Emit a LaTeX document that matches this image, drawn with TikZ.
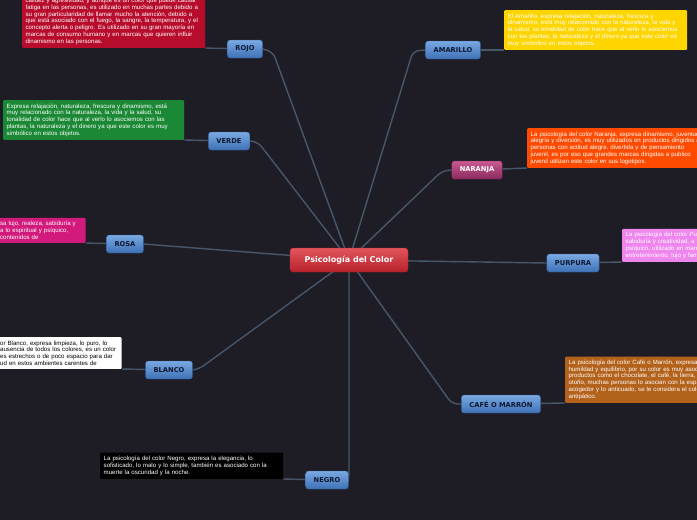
\documentclass[tikz,border=0pt]{standalone}
\usepackage{fontspec}
\setmainfont{Liberation Sans}
\newfontfamily\topicfont{DejaVu Sans}
\usetikzlibrary{backgrounds}

\definecolor{bgc}{HTML}{1E1D25}
\definecolor{linkc}{HTML}{48566A}
\definecolor{topictop}{HTML}{7AA9E2}
\definecolor{topicbot}{HTML}{3E71B6}
\definecolor{topicdraw}{HTML}{2F5D99}
\definecolor{topictext}{HTML}{0E1830}
\definecolor{roottop}{HTML}{E2555D}
\definecolor{rootbot}{HTML}{B5212B}
\definecolor{narntop}{HTML}{C95A92}
\definecolor{narnbot}{HTML}{8A2A5E}
\definecolor{rojoc}{HTML}{B70C2C}
\definecolor{verdec}{HTML}{1A8834}
\definecolor{amarilloc}{HTML}{FFD500}
\definecolor{naranjac}{HTML}{FF4B00}
\definecolor{rosac}{HTML}{D21A7C}
\definecolor{purpurac}{HTML}{EE86EE}
\definecolor{cafec}{HTML}{B3621B}

\begin{document}
\begin{tikzpicture}[x=1pt,y=-1pt,
  link/.style={draw=linkc,line width=1.4pt,rounded corners=6pt},
  topic/.style={rounded corners=2.5pt,top color=topictop,bottom color=topicbot,
    draw=topicdraw,line width=0.4pt,text=topictext,
    font=\topicfont\bfseries\fontsize{6.7}{7}\selectfont,
    minimum height=18pt,inner xsep=8pt,inner ysep=0pt},
  desc/.style={anchor=south west,rounded corners=1pt,text=white,align=left,
    inner xsep=3.5pt,inner ysep=3.5pt,font=\fontsize{6.1}{6.7}\selectfont}]
  \useasboundingbox (0,0) rectangle (697,520);
  \clip (0,0) rectangle (697,520);

  % central topic and main topics
  \node[rounded corners=3pt,top color=roottop,bottom color=rootbot,draw=rootbot,
    text=white,font=\topicfont\bfseries\fontsize{8}{9}\selectfont,
    minimum width=118pt,minimum height=24pt] (root) at (349,260) {Psicología del Color};
  \node[topic] (rojo) at (245,49) {ROJO};
  \node[topic] (verde) at (229,141) {VERDE};
  \node[topic] (rosa) at (125,244) {ROSA};
  \node[topic] (blanco) at (169,370) {BLANCO};
  \node[topic] (negro) at (327,480) {NEGRO};
  \node[topic] (amarillo) at (453,50) {AMARILLO};
  \node[topic,top color=narntop,bottom color=narnbot,draw=narnbot,text=white] (naranja) at (477,170) {NARANJA};
  \node[topic] (purpura) at (573,263) {PURPURA};
  \node[topic] (cafe) at (501,404) {CAFÉ O MARRÓN};

  % notes
  \node[desc,fill=rojoc,text width=176pt] (rojotxt) at (22,48) {\mbox{}\\
    calidez y agresividad, y aunque es un color que puede causar\\
    fatiga en las personas, es utilizado en muchas partes debido a\\
    su gran particularidad de llamar mucho la atención, debido a\\
    que está asociado con el fuego, la sangre, la temperatura, y el\\
    concepto alerta o peligro. Es utilizado en su gran mayoría en\\
    marcas de consumo humano y en marcas que quieren influir\\
    dinamismo en las personas.};
  \node[desc,fill=verdec,text width=174pt] (verdetxt) at (3,140) {%
    Expresa relajación, naturaleza, frescura y dinamismo, está\\
    muy relacionado con la naturaleza, la vida y la salud, su\\
    tonalidad de color hace que al verlo lo asociemos con las\\
    plantas, la naturaleza y el dinero ya que este color es muy\\
    simbólico en estos objetos.};
  \node[desc,fill=rosac,text width=82pt] (rosatxt) at (-3.5,243) {%
    sa lujo, realeza, sabiduría y\\
    a lo espiritual y psíquico,\\
    contenidos de};
  \node[desc,fill=white,text=black,text width=118pt] (blancotxt) at (-3.5,369) {%
    or Blanco, expresa limpieza, lo puro, lo\\
    ausencia de todos los colores, es un color\\
    es estrechos o de poco espacio para dar\\
    ud en estos ambientes carentes de};
  \node[desc,fill=black,text width=176pt] (negrotxt) at (100,479) {%
    La psicología del color Negro, expresa la elegancia, lo\\
    sofisticado, lo malo y lo simple, también es asociado con la\\
    muerte la oscuridad y la noche.};
  \node[desc,fill=amarilloc,text width=176pt] (amarillotxt) at (504,50) {%
    El Amarillo, expresa relajación, naturaleza, frescura y\\
    dinamismo, está muy relacionado con la naturaleza, la vida y\\
    la salud, su tonalidad de color hace que al verlo lo asociemos\\
    con las plantas, la naturaleza y el dinero ya que este color es\\
    muy simbólico en estos objetos.};
  \node[desc,fill=naranjac,text width=200pt] (naranjatxt) at (527,168) {%
    La psicología del color Naranja, expresa dinamismo, juventud,\\
    alegría y diversión, es muy utilizados en productos dirigidos a\\
    personas con actitud alegre, divertida y de pensamiento\\
    juvenil, es por eso que grandes marcas dirigidas a publico\\
    juvenil utilizan este color en sus logotipos.};
  \node[desc,fill=purpurac,text width=200pt] (purpuratxt) at (622,262) {%
    La psicología del color Purpura,\\
    sabiduría y creatividad, a\\
    psíquico, utilizado en marcas\\
    entretenimiento, lujo y fantasía};
  \node[desc,fill=cafec,text width=200pt] (cafetxt) at (565,403) {%
    La psicología del color Café o Marrón, expresa\\
    humildad y equilibrio, por su color es muy asociado\\
    productos como el chocolate, el café, la tierra,\\
    otoño, muchas personas lo asocian con la espalda\\
    acogedor y lo anticuado, se le considera el color\\
    antipático.};

  \begin{scope}[on background layer]
    \fill[bgc] (0,0) rectangle (697,520);
    \draw[link] (root.center) -- (273,52) -- (rojo.east);
    \draw[link] (root.center) -- (258,142) -- (verde.east);
    \draw[link] (root.center) -- (rosa.east);
    \draw[link] (root.center) -- (199,369) -- (blanco.east);
    \draw[link] (root.center) -- (349,478) -- (negro.east);
    \draw[link] (root.center) -- (413,51) -- (amarillo.west);
    \draw[link] (root.center) -- (442,171) -- (naranja.west);
    \draw[link] (root.center) -- (purpura.west);
    \draw[link] (root.center) -- (452,404) -- (cafe.west);
    \draw[link] (rojo) -- (rojotxt.south east);
    \draw[link] (verde) -- (verdetxt.south east);
    \draw[link] (rosa) -- (rosatxt.south east);
    \draw[link] (blanco) -- (blancotxt.south east);
    \draw[link] (negro) -- (negrotxt.south east);
    \draw[link] (amarillo) -- (amarillotxt.south west);
    \draw[link] (naranja) -- (naranjatxt.south west);
    \draw[link] (purpura) -- (purpuratxt.south west);
    \draw[link] (cafe) -- (cafetxt.south west);
  \end{scope}
\end{tikzpicture}
\end{document}
